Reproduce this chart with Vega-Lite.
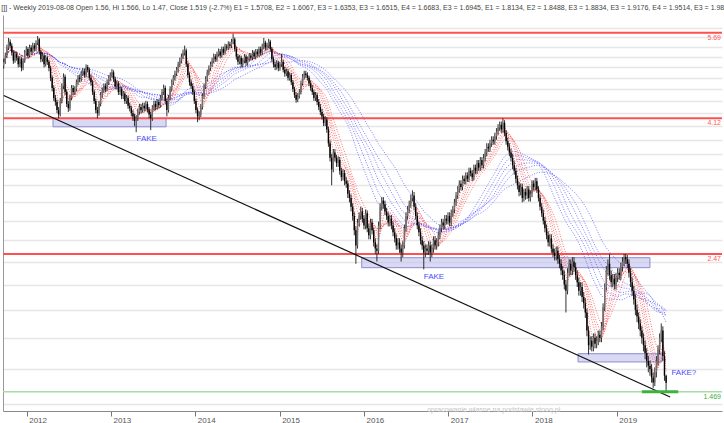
{
"$schema":"https://vega.github.io/schema/vega-lite/v6.json",
"width":719,"height":396,
"autosize":{"type":"none"},
"padding":{"left":3,"top":15,"right":2,"bottom":12},
"background":"white",
"title":{"text":"[]] - Weekly 2019-08-08 Open 1.56, Hi 1.566, Lo 1.47, Close 1.519 (-2.7%) E1 = 1.5708, E2 = 1.6067, E3 = 1.6353, E3 = 1.6515, E4 = 1.6683, E3 = 1.6945, E1 = 1.8134, E2 = 1.8488, E3 = 1.8834, E3 = 1.9176, E4 = 1.9514, E3 = 1.984","anchor":"start","fontSize":7,"fontWeight":"normal","color":"#444444","font":"Liberation Sans","offset":4},
"config":{"view":{"stroke":null},"font":"Liberation Sans",
 "axisX":{"grid":false,"tickSize":5,"tickColor":"#777777","domainColor":"#8a8a8a","labelAlign":"left","labelOffset":2,"labelFontSize":8,"labelColor":"#555555","labelPadding":0,"title":null},
 "axisY":{"grid":true,"gridColor":"#e6e6e6","gridWidth":1.5,"labels":false,"ticks":false,"domain":true,"domainColor":"#999999","title":null}},
"datasets":{
"candles":[
{"i":0,"o":5.02,"h":5.16,"l":4.97,"c":5.1},{"i":1,"o":5.1,"h":5.28,"l":5.06,"c":5.22},{"i":2,"o":5.22,"h":5.44,"l":5.17,"c":5.38},{"i":3,"o":5.38,"h":5.58,"l":5.33,"c":5.5},{"i":4,"o":5.5,"h":5.55,"l":5.36,"c":5.42},{"i":5,"o":5.42,"h":5.47,"l":5.22,"c":5.28},{"i":6,"o":5.28,"h":5.33,"l":5.06,"c":5.12},{"i":7,"o":5.12,"h":5.31,"l":5.08,"c":5.25},{"i":8,"o":5.25,"h":5.3,"l":5.12,"c":5.18},{"i":9,"o":5.18,"h":5.22,"l":4.99,"c":5.05},
{"i":10,"o":5.05,"h":5.21,"l":5.0,"c":5.15},{"i":11,"o":5.15,"h":5.19,"l":4.92,"c":4.98},{"i":12,"o":4.98,"h":5.17,"l":4.94,"c":5.12},{"i":13,"o":5.12,"h":5.33,"l":5.08,"c":5.28},{"i":14,"o":5.28,"h":5.41,"l":5.23,"c":5.35},{"i":15,"o":5.35,"h":5.39,"l":5.16,"c":5.22},{"i":16,"o":5.22,"h":5.44,"l":5.18,"c":5.38},{"i":17,"o":5.38,"h":5.43,"l":5.24,"c":5.3},{"i":18,"o":5.3,"h":5.48,"l":5.26,"c":5.42},{"i":19,"o":5.42,"h":5.47,"l":5.3,"c":5.36},
{"i":20,"o":5.36,"h":5.53,"l":5.31,"c":5.48},{"i":21,"o":5.48,"h":5.62,"l":5.43,"c":5.55},{"i":22,"o":5.55,"h":5.58,"l":5.24,"c":5.3},{"i":23,"o":5.3,"h":5.34,"l":5.09,"c":5.15},{"i":24,"o":5.15,"h":5.28,"l":5.1,"c":5.22},{"i":25,"o":5.22,"h":5.26,"l":4.99,"c":5.05},{"i":26,"o":5.05,"h":5.23,"l":5.01,"c":5.18},{"i":27,"o":5.18,"h":5.22,"l":5.04,"c":5.1},{"i":28,"o":5.1,"h":5.14,"l":4.92,"c":4.98},{"i":29,"o":4.98,"h":5.02,"l":4.74,"c":4.8},
{"i":30,"o":4.8,"h":4.84,"l":4.56,"c":4.62},{"i":31,"o":4.62,"h":4.66,"l":4.4,"c":4.45},{"i":32,"o":4.45,"h":4.5,"l":4.32,"c":4.38},{"i":33,"o":4.38,"h":4.42,"l":4.2,"c":4.25},{"i":34,"o":4.25,"h":4.3,"l":4.12,"c":4.18},{"i":35,"o":4.18,"h":4.45,"l":4.15,"c":4.4},{"i":36,"o":4.4,"h":4.7,"l":4.36,"c":4.65},{"i":37,"o":4.65,"h":4.88,"l":4.6,"c":4.82},{"i":38,"o":4.82,"h":4.86,"l":4.5,"c":4.55},{"i":39,"o":4.55,"h":4.59,"l":4.3,"c":4.35},
{"i":40,"o":4.35,"h":4.4,"l":4.22,"c":4.28},{"i":41,"o":4.28,"h":4.5,"l":4.24,"c":4.45},{"i":42,"o":4.45,"h":4.67,"l":4.41,"c":4.62},{"i":43,"o":4.62,"h":4.67,"l":4.5,"c":4.55},{"i":44,"o":4.55,"h":4.65,"l":4.5,"c":4.6},{"i":45,"o":4.6,"h":4.77,"l":4.56,"c":4.72},{"i":46,"o":4.72,"h":4.85,"l":4.67,"c":4.8},{"i":47,"o":4.8,"h":4.86,"l":4.72,"c":4.78},{"i":48,"o":4.78,"h":4.93,"l":4.73,"c":4.88},{"i":49,"o":4.88,"h":4.98,"l":4.83,"c":4.92},
{"i":50,"o":4.92,"h":4.97,"l":4.8,"c":4.85},{"i":51,"o":4.85,"h":5.05,"l":4.81,"c":5.0},{"i":52,"o":5.0,"h":5.04,"l":4.9,"c":4.95},{"i":53,"o":4.95,"h":4.99,"l":4.75,"c":4.8},{"i":54,"o":4.8,"h":4.85,"l":4.66,"c":4.72},{"i":55,"o":4.72,"h":4.76,"l":4.5,"c":4.55},{"i":56,"o":4.55,"h":4.59,"l":4.35,"c":4.4},{"i":57,"o":4.4,"h":4.44,"l":4.2,"c":4.25},{"i":58,"o":4.25,"h":4.3,"l":4.12,"c":4.2},{"i":59,"o":4.2,"h":4.4,"l":4.16,"c":4.35},
{"i":60,"o":4.35,"h":4.55,"l":4.31,"c":4.5},{"i":61,"o":4.5,"h":4.63,"l":4.45,"c":4.58},{"i":62,"o":4.58,"h":4.7,"l":4.53,"c":4.65},{"i":63,"o":4.65,"h":4.7,"l":4.55,"c":4.6},{"i":64,"o":4.6,"h":4.77,"l":4.56,"c":4.72},{"i":65,"o":4.72,"h":4.85,"l":4.67,"c":4.8},{"i":66,"o":4.8,"h":4.9,"l":4.75,"c":4.85},{"i":67,"o":4.85,"h":4.96,"l":4.8,"c":4.9},{"i":68,"o":4.9,"h":4.94,"l":4.73,"c":4.78},{"i":69,"o":4.78,"h":4.82,"l":4.6,"c":4.65},
{"i":70,"o":4.65,"h":4.75,"l":4.6,"c":4.7},{"i":71,"o":4.7,"h":4.74,"l":4.5,"c":4.55},{"i":72,"o":4.55,"h":4.65,"l":4.5,"c":4.6},{"i":73,"o":4.6,"h":4.64,"l":4.43,"c":4.48},{"i":74,"o":4.48,"h":4.57,"l":4.43,"c":4.52},{"i":75,"o":4.52,"h":4.56,"l":4.35,"c":4.4},{"i":76,"o":4.4,"h":4.5,"l":4.35,"c":4.45},{"i":77,"o":4.45,"h":4.49,"l":4.27,"c":4.32},{"i":78,"o":4.32,"h":4.37,"l":4.23,"c":4.28},{"i":79,"o":4.28,"h":4.32,"l":4.15,"c":4.2},
{"i":80,"o":4.2,"h":4.25,"l":4.08,"c":4.15},{"i":81,"o":4.15,"h":4.19,"l":4.0,"c":4.08},{"i":82,"o":4.08,"h":4.17,"l":3.91,"c":4.12},{"i":83,"o":4.12,"h":4.27,"l":4.08,"c":4.22},{"i":84,"o":4.22,"h":4.35,"l":4.18,"c":4.3},{"i":85,"o":4.3,"h":4.35,"l":4.2,"c":4.25},{"i":86,"o":4.25,"h":4.37,"l":4.21,"c":4.32},{"i":87,"o":4.32,"h":4.37,"l":4.23,"c":4.28},{"i":88,"o":4.28,"h":4.4,"l":4.24,"c":4.35},{"i":89,"o":4.35,"h":4.39,"l":4.21,"c":4.26},
{"i":90,"o":4.26,"h":4.3,"l":4.12,"c":4.18},{"i":91,"o":4.18,"h":4.22,"l":3.94,"c":4.12},{"i":92,"o":4.12,"h":4.33,"l":4.08,"c":4.28},{"i":93,"o":4.28,"h":4.4,"l":4.24,"c":4.35},{"i":94,"o":4.35,"h":4.4,"l":4.25,"c":4.3},{"i":95,"o":4.3,"h":4.43,"l":4.26,"c":4.38},{"i":96,"o":4.38,"h":4.42,"l":4.28,"c":4.33},{"i":97,"o":4.33,"h":4.5,"l":4.29,"c":4.45},{"i":98,"o":4.45,"h":4.6,"l":4.41,"c":4.55},{"i":99,"o":4.55,"h":4.68,"l":4.5,"c":4.62},
{"i":100,"o":4.62,"h":4.66,"l":4.35,"c":4.4},{"i":101,"o":4.4,"h":4.44,"l":4.15,"c":4.25},{"i":102,"o":4.25,"h":4.5,"l":4.21,"c":4.45},{"i":103,"o":4.45,"h":4.65,"l":4.41,"c":4.6},{"i":104,"o":4.6,"h":4.77,"l":4.56,"c":4.72},{"i":105,"o":4.72,"h":4.85,"l":4.67,"c":4.8},{"i":106,"o":4.8,"h":4.93,"l":4.75,"c":4.88},{"i":107,"o":4.88,"h":5.0,"l":4.83,"c":4.95},{"i":108,"o":4.95,"h":5.1,"l":4.9,"c":5.05},{"i":109,"o":5.05,"h":5.18,"l":5.0,"c":5.12},
{"i":110,"o":5.12,"h":5.26,"l":5.07,"c":5.2},{"i":111,"o":5.2,"h":5.34,"l":5.15,"c":5.28},{"i":112,"o":5.28,"h":5.42,"l":5.22,"c":5.32},{"i":113,"o":5.32,"h":5.36,"l":5.0,"c":5.05},{"i":114,"o":5.05,"h":5.09,"l":4.8,"c":4.85},{"i":115,"o":4.85,"h":4.9,"l":4.66,"c":4.72},{"i":116,"o":4.72,"h":4.77,"l":4.6,"c":4.65},{"i":117,"o":4.65,"h":4.7,"l":4.5,"c":4.55},{"i":118,"o":4.55,"h":4.59,"l":4.35,"c":4.4},{"i":119,"o":4.4,"h":4.44,"l":4.2,"c":4.25},
{"i":120,"o":4.25,"h":4.29,"l":4.06,"c":4.15},{"i":121,"o":4.15,"h":4.23,"l":4.09,"c":4.18},{"i":122,"o":4.18,"h":4.35,"l":4.14,"c":4.3},{"i":123,"o":4.3,"h":4.53,"l":4.26,"c":4.48},{"i":124,"o":4.48,"h":4.7,"l":4.44,"c":4.65},{"i":125,"o":4.65,"h":4.83,"l":4.6,"c":4.78},{"i":126,"o":4.78,"h":4.95,"l":4.73,"c":4.9},{"i":127,"o":4.9,"h":5.03,"l":4.85,"c":4.98},{"i":128,"o":4.98,"h":5.1,"l":4.93,"c":5.05},{"i":129,"o":5.05,"h":5.18,"l":5.0,"c":5.12},
{"i":130,"o":5.12,"h":5.26,"l":5.07,"c":5.2},{"i":131,"o":5.2,"h":5.25,"l":5.1,"c":5.15},{"i":132,"o":5.15,"h":5.3,"l":5.1,"c":5.25},{"i":133,"o":5.25,"h":5.36,"l":5.2,"c":5.3},{"i":134,"o":5.3,"h":5.35,"l":5.17,"c":5.22},{"i":135,"o":5.22,"h":5.4,"l":5.18,"c":5.35},{"i":136,"o":5.35,"h":5.4,"l":5.23,"c":5.28},{"i":137,"o":5.28,"h":5.46,"l":5.24,"c":5.4},{"i":138,"o":5.4,"h":5.45,"l":5.32,"c":5.38},{"i":139,"o":5.38,"h":5.51,"l":5.33,"c":5.45},
{"i":140,"o":5.45,"h":5.5,"l":5.36,"c":5.42},{"i":141,"o":5.42,"h":5.56,"l":5.37,"c":5.5},{"i":142,"o":5.5,"h":5.67,"l":5.45,"c":5.55},{"i":143,"o":5.55,"h":5.59,"l":5.3,"c":5.35},{"i":144,"o":5.35,"h":5.4,"l":5.14,"c":5.2},{"i":145,"o":5.2,"h":5.25,"l":5.04,"c":5.1},{"i":146,"o":5.1,"h":5.23,"l":5.05,"c":5.18},{"i":147,"o":5.18,"h":5.22,"l":4.99,"c":5.05},{"i":148,"o":5.05,"h":5.17,"l":5.0,"c":5.12},{"i":149,"o":5.12,"h":5.25,"l":5.07,"c":5.2},
{"i":150,"o":5.2,"h":5.24,"l":5.02,"c":5.08},{"i":151,"o":5.08,"h":5.2,"l":5.03,"c":5.15},{"i":152,"o":5.15,"h":5.27,"l":5.1,"c":5.22},{"i":153,"o":5.22,"h":5.27,"l":5.12,"c":5.18},{"i":154,"o":5.18,"h":5.33,"l":5.13,"c":5.28},{"i":155,"o":5.28,"h":5.32,"l":5.15,"c":5.2},{"i":156,"o":5.2,"h":5.35,"l":5.15,"c":5.3},{"i":157,"o":5.3,"h":5.35,"l":5.2,"c":5.25},{"i":158,"o":5.25,"h":5.4,"l":5.2,"c":5.35},{"i":159,"o":5.35,"h":5.4,"l":5.22,"c":5.28},
{"i":160,"o":5.28,"h":5.46,"l":5.23,"c":5.4},{"i":161,"o":5.4,"h":5.58,"l":5.35,"c":5.48},{"i":162,"o":5.48,"h":5.52,"l":5.32,"c":5.38},{"i":163,"o":5.38,"h":5.48,"l":5.33,"c":5.42},{"i":164,"o":5.42,"h":5.56,"l":5.37,"c":5.5},{"i":165,"o":5.5,"h":5.54,"l":5.3,"c":5.35},{"i":166,"o":5.35,"h":5.39,"l":5.1,"c":5.15},{"i":167,"o":5.15,"h":5.2,"l":4.99,"c":5.05},{"i":168,"o":5.05,"h":5.1,"l":4.94,"c":5.0},{"i":169,"o":5.0,"h":5.13,"l":4.95,"c":5.08},
{"i":170,"o":5.08,"h":5.12,"l":4.92,"c":4.98},{"i":171,"o":4.98,"h":5.1,"l":4.93,"c":5.05},{"i":172,"o":5.05,"h":5.25,"l":5.0,"c":5.1},{"i":173,"o":5.1,"h":5.14,"l":4.9,"c":4.95},{"i":174,"o":4.95,"h":5.0,"l":4.82,"c":4.88},{"i":175,"o":4.88,"h":4.97,"l":4.83,"c":4.92},{"i":176,"o":4.92,"h":4.96,"l":4.75,"c":4.8},{"i":177,"o":4.8,"h":4.9,"l":4.75,"c":4.85},{"i":178,"o":4.85,"h":4.89,"l":4.67,"c":4.72},{"i":179,"o":4.72,"h":4.76,"l":4.55,"c":4.6},
{"i":180,"o":4.6,"h":4.64,"l":4.45,"c":4.5},{"i":181,"o":4.5,"h":4.55,"l":4.37,"c":4.42},{"i":182,"o":4.42,"h":4.53,"l":4.38,"c":4.48},{"i":183,"o":4.48,"h":4.6,"l":4.44,"c":4.55},{"i":184,"o":4.55,"h":4.75,"l":4.51,"c":4.7},{"i":185,"o":4.7,"h":4.87,"l":4.66,"c":4.82},{"i":186,"o":4.82,"h":4.93,"l":4.77,"c":4.88},{"i":187,"o":4.88,"h":4.93,"l":4.8,"c":4.85},{"i":188,"o":4.85,"h":4.9,"l":4.75,"c":4.8},{"i":189,"o":4.8,"h":4.84,"l":4.65,"c":4.7},
{"i":190,"o":4.7,"h":4.75,"l":4.57,"c":4.62},{"i":191,"o":4.62,"h":4.67,"l":4.5,"c":4.55},{"i":192,"o":4.55,"h":4.59,"l":4.4,"c":4.45},{"i":193,"o":4.45,"h":4.55,"l":4.4,"c":4.5},{"i":194,"o":4.5,"h":4.54,"l":4.33,"c":4.38},{"i":195,"o":4.38,"h":4.43,"l":4.25,"c":4.3},{"i":196,"o":4.3,"h":4.35,"l":4.17,"c":4.22},{"i":197,"o":4.22,"h":4.27,"l":4.1,"c":4.15},{"i":198,"o":4.15,"h":4.19,"l":4.0,"c":4.05},{"i":199,"o":4.05,"h":4.15,"l":4.0,"c":4.1},
{"i":200,"o":4.1,"h":4.14,"l":3.9,"c":3.95},{"i":201,"o":3.95,"h":3.99,"l":3.7,"c":3.75},{"i":202,"o":3.75,"h":3.79,"l":3.5,"c":3.55},{"i":203,"o":3.55,"h":3.6,"l":3.2,"c":3.4},{"i":204,"o":3.4,"h":3.67,"l":3.36,"c":3.62},{"i":205,"o":3.62,"h":3.67,"l":3.5,"c":3.55},{"i":206,"o":3.55,"h":3.59,"l":3.43,"c":3.48},{"i":207,"o":3.48,"h":3.57,"l":3.43,"c":3.52},{"i":208,"o":3.52,"h":3.56,"l":3.33,"c":3.38},{"i":209,"o":3.38,"h":3.42,"l":3.25,"c":3.3},
{"i":210,"o":3.3,"h":3.4,"l":3.26,"c":3.35},{"i":211,"o":3.35,"h":3.39,"l":3.2,"c":3.25},{"i":212,"o":3.25,"h":3.3,"l":3.17,"c":3.22},{"i":213,"o":3.22,"h":3.26,"l":3.05,"c":3.1},{"i":214,"o":3.1,"h":3.14,"l":3.0,"c":3.05},{"i":215,"o":3.05,"h":3.09,"l":2.9,"c":2.95},{"i":216,"o":2.95,"h":2.99,"l":2.8,"c":2.85},{"i":217,"o":2.85,"h":2.89,"l":2.65,"c":2.7},{"i":218,"o":2.7,"h":2.74,"l":2.38,"c":2.55},{"i":219,"o":2.55,"h":2.82,"l":2.52,"c":2.78},
{"i":220,"o":2.78,"h":2.89,"l":2.74,"c":2.85},{"i":221,"o":2.85,"h":2.95,"l":2.81,"c":2.9},{"i":222,"o":2.9,"h":2.94,"l":2.78,"c":2.82},{"i":223,"o":2.82,"h":2.86,"l":2.71,"c":2.75},{"i":224,"o":2.75,"h":2.92,"l":2.71,"c":2.88},{"i":225,"o":2.88,"h":2.91,"l":2.68,"c":2.72},{"i":226,"o":2.72,"h":2.76,"l":2.61,"c":2.65},{"i":227,"o":2.65,"h":2.82,"l":2.61,"c":2.78},{"i":228,"o":2.78,"h":2.82,"l":2.66,"c":2.7},{"i":229,"o":2.7,"h":2.73,"l":2.54,"c":2.58},
{"i":230,"o":2.58,"h":2.62,"l":2.47,"c":2.52},{"i":231,"o":2.52,"h":2.56,"l":2.4,"c":2.5},{"i":232,"o":2.5,"h":2.79,"l":2.47,"c":2.75},{"i":233,"o":2.75,"h":2.99,"l":2.71,"c":2.95},{"i":234,"o":2.95,"h":3.06,"l":2.91,"c":3.02},{"i":235,"o":3.02,"h":3.06,"l":2.93,"c":2.98},{"i":236,"o":2.98,"h":3.02,"l":2.86,"c":2.9},{"i":237,"o":2.9,"h":2.94,"l":2.81,"c":2.85},{"i":238,"o":2.85,"h":2.89,"l":2.74,"c":2.78},{"i":239,"o":2.78,"h":2.86,"l":2.74,"c":2.82},
{"i":240,"o":2.82,"h":2.86,"l":2.71,"c":2.75},{"i":241,"o":2.75,"h":2.79,"l":2.64,"c":2.68},{"i":242,"o":2.68,"h":2.72,"l":2.58,"c":2.62},{"i":243,"o":2.62,"h":2.66,"l":2.51,"c":2.55},{"i":244,"o":2.55,"h":2.62,"l":2.51,"c":2.58},{"i":245,"o":2.58,"h":2.62,"l":2.48,"c":2.52},{"i":246,"o":2.52,"h":2.56,"l":2.4,"c":2.48},{"i":247,"o":2.48,"h":2.59,"l":2.44,"c":2.55},{"i":248,"o":2.55,"h":2.76,"l":2.52,"c":2.72},{"i":249,"o":2.72,"h":2.89,"l":2.68,"c":2.85},
{"i":250,"o":2.85,"h":2.96,"l":2.81,"c":2.92},{"i":251,"o":2.92,"h":3.02,"l":2.88,"c":2.98},{"i":252,"o":2.98,"h":3.09,"l":2.94,"c":3.05},{"i":253,"o":3.05,"h":3.14,"l":3.01,"c":3.08},{"i":254,"o":3.08,"h":3.12,"l":2.91,"c":2.95},{"i":255,"o":2.95,"h":2.99,"l":2.81,"c":2.85},{"i":256,"o":2.85,"h":2.89,"l":2.71,"c":2.75},{"i":257,"o":2.75,"h":2.79,"l":2.64,"c":2.68},{"i":258,"o":2.68,"h":2.72,"l":2.56,"c":2.6},{"i":259,"o":2.6,"h":2.64,"l":2.51,"c":2.55},
{"i":260,"o":2.55,"h":2.59,"l":2.33,"c":2.48},{"i":261,"o":2.48,"h":2.56,"l":2.44,"c":2.52},{"i":262,"o":2.52,"h":2.56,"l":2.46,"c":2.5},{"i":263,"o":2.5,"h":2.59,"l":2.46,"c":2.55},{"i":264,"o":2.55,"h":2.59,"l":2.4,"c":2.48},{"i":265,"o":2.48,"h":2.56,"l":2.44,"c":2.52},{"i":266,"o":2.52,"h":2.64,"l":2.48,"c":2.6},{"i":267,"o":2.6,"h":2.64,"l":2.51,"c":2.55},{"i":268,"o":2.55,"h":2.62,"l":2.51,"c":2.58},{"i":269,"o":2.58,"h":2.69,"l":2.54,"c":2.65},
{"i":270,"o":2.65,"h":2.76,"l":2.61,"c":2.72},{"i":271,"o":2.72,"h":2.82,"l":2.68,"c":2.78},{"i":272,"o":2.78,"h":2.82,"l":2.71,"c":2.75},{"i":273,"o":2.75,"h":2.86,"l":2.71,"c":2.82},{"i":274,"o":2.82,"h":2.86,"l":2.76,"c":2.8},{"i":275,"o":2.8,"h":2.89,"l":2.76,"c":2.85},{"i":276,"o":2.85,"h":2.89,"l":2.74,"c":2.78},{"i":277,"o":2.78,"h":2.92,"l":2.74,"c":2.88},{"i":278,"o":2.88,"h":2.96,"l":2.84,"c":2.92},{"i":279,"o":2.92,"h":3.04,"l":2.88,"c":3.0},
{"i":280,"o":3.0,"h":3.12,"l":2.96,"c":3.08},{"i":281,"o":3.08,"h":3.19,"l":3.04,"c":3.15},{"i":282,"o":3.15,"h":3.26,"l":3.11,"c":3.22},{"i":283,"o":3.22,"h":3.26,"l":3.14,"c":3.18},{"i":284,"o":3.18,"h":3.32,"l":3.14,"c":3.28},{"i":285,"o":3.28,"h":3.32,"l":3.21,"c":3.25},{"i":286,"o":3.25,"h":3.36,"l":3.21,"c":3.32},{"i":287,"o":3.32,"h":3.36,"l":3.24,"c":3.28},{"i":288,"o":3.28,"h":3.42,"l":3.24,"c":3.38},{"i":289,"o":3.38,"h":3.42,"l":3.31,"c":3.35},
{"i":290,"o":3.35,"h":3.39,"l":3.25,"c":3.3},{"i":291,"o":3.3,"h":3.46,"l":3.26,"c":3.42},{"i":292,"o":3.42,"h":3.46,"l":3.34,"c":3.38},{"i":293,"o":3.38,"h":3.52,"l":3.34,"c":3.48},{"i":294,"o":3.48,"h":3.52,"l":3.38,"c":3.42},{"i":295,"o":3.42,"h":3.56,"l":3.38,"c":3.52},{"i":296,"o":3.52,"h":3.56,"l":3.41,"c":3.45},{"i":297,"o":3.45,"h":3.6,"l":3.41,"c":3.55},{"i":298,"o":3.55,"h":3.67,"l":3.5,"c":3.62},{"i":299,"o":3.62,"h":3.75,"l":3.57,"c":3.7},
{"i":300,"o":3.7,"h":3.75,"l":3.63,"c":3.68},{"i":301,"o":3.68,"h":3.8,"l":3.63,"c":3.75},{"i":302,"o":3.75,"h":3.85,"l":3.7,"c":3.8},{"i":303,"o":3.8,"h":3.85,"l":3.73,"c":3.78},{"i":304,"o":3.78,"h":3.9,"l":3.73,"c":3.85},{"i":305,"o":3.85,"h":3.97,"l":3.8,"c":3.92},{"i":306,"o":3.92,"h":4.03,"l":3.87,"c":3.98},{"i":307,"o":3.98,"h":4.07,"l":3.93,"c":4.02},{"i":308,"o":4.02,"h":4.07,"l":3.9,"c":3.95},{"i":309,"o":3.95,"h":4.12,"l":3.9,"c":4.05},
{"i":310,"o":4.05,"h":4.09,"l":3.85,"c":3.9},{"i":311,"o":3.9,"h":3.94,"l":3.73,"c":3.78},{"i":312,"o":3.78,"h":3.83,"l":3.65,"c":3.7},{"i":313,"o":3.7,"h":3.75,"l":3.57,"c":3.62},{"i":314,"o":3.62,"h":3.67,"l":3.5,"c":3.55},{"i":315,"o":3.55,"h":3.6,"l":3.4,"c":3.45},{"i":316,"o":3.45,"h":3.5,"l":3.33,"c":3.38},{"i":317,"o":3.38,"h":3.42,"l":3.23,"c":3.28},{"i":318,"o":3.28,"h":3.32,"l":3.15,"c":3.2},{"i":319,"o":3.2,"h":3.24,"l":3.07,"c":3.12},
{"i":320,"o":3.12,"h":3.22,"l":3.08,"c":3.18},{"i":321,"o":3.18,"h":3.22,"l":3.0,"c":3.05},{"i":322,"o":3.05,"h":3.16,"l":3.01,"c":3.12},{"i":323,"o":3.12,"h":3.16,"l":3.03,"c":3.08},{"i":324,"o":3.08,"h":3.19,"l":3.04,"c":3.15},{"i":325,"o":3.15,"h":3.19,"l":3.01,"c":3.05},{"i":326,"o":3.05,"h":3.14,"l":3.01,"c":3.1},{"i":327,"o":3.1,"h":3.26,"l":3.06,"c":3.22},{"i":328,"o":3.22,"h":3.26,"l":3.14,"c":3.18},{"i":329,"o":3.18,"h":3.29,"l":3.14,"c":3.25},
{"i":330,"o":3.25,"h":3.29,"l":3.11,"c":3.15},{"i":331,"o":3.15,"h":3.19,"l":3.01,"c":3.05},{"i":332,"o":3.05,"h":3.09,"l":2.91,"c":2.95},{"i":333,"o":2.95,"h":2.99,"l":2.84,"c":2.88},{"i":334,"o":2.88,"h":2.92,"l":2.76,"c":2.8},{"i":335,"o":2.8,"h":2.84,"l":2.68,"c":2.72},{"i":336,"o":2.72,"h":2.76,"l":2.61,"c":2.65},{"i":337,"o":2.65,"h":2.69,"l":2.54,"c":2.58},{"i":338,"o":2.58,"h":2.66,"l":2.54,"c":2.62},{"i":339,"o":2.62,"h":2.66,"l":2.48,"c":2.52},
{"i":340,"o":2.52,"h":2.56,"l":2.44,"c":2.48},{"i":341,"o":2.48,"h":2.52,"l":2.41,"c":2.45},{"i":342,"o":2.45,"h":2.54,"l":2.41,"c":2.5},{"i":343,"o":2.5,"h":2.54,"l":2.38,"c":2.42},{"i":344,"o":2.42,"h":2.46,"l":2.34,"c":2.38},{"i":345,"o":2.38,"h":2.42,"l":2.28,"c":2.32},{"i":346,"o":2.32,"h":2.36,"l":2.24,"c":2.28},{"i":347,"o":2.28,"h":2.32,"l":2.16,"c":2.2},{"i":348,"o":2.2,"h":2.24,"l":1.98,"c":2.15},{"i":349,"o":2.15,"h":2.34,"l":2.12,"c":2.3},
{"i":350,"o":2.3,"h":2.42,"l":2.27,"c":2.38},{"i":351,"o":2.38,"h":2.42,"l":2.28,"c":2.32},{"i":352,"o":2.32,"h":2.44,"l":2.28,"c":2.4},{"i":353,"o":2.4,"h":2.44,"l":2.31,"c":2.35},{"i":354,"o":2.35,"h":2.39,"l":2.24,"c":2.28},{"i":355,"o":2.28,"h":2.32,"l":2.18,"c":2.22},{"i":356,"o":2.22,"h":2.26,"l":2.11,"c":2.15},{"i":357,"o":2.15,"h":2.22,"l":2.11,"c":2.18},{"i":358,"o":2.18,"h":2.22,"l":2.06,"c":2.1},{"i":359,"o":2.1,"h":2.14,"l":2.01,"c":2.05},
{"i":360,"o":2.05,"h":2.09,"l":1.94,"c":1.98},{"i":361,"o":1.98,"h":2.01,"l":1.81,"c":1.85},{"i":362,"o":1.85,"h":1.88,"l":1.69,"c":1.75},{"i":363,"o":1.75,"h":1.81,"l":1.72,"c":1.78},{"i":364,"o":1.78,"h":1.81,"l":1.71,"c":1.74},{"i":365,"o":1.74,"h":1.83,"l":1.71,"c":1.8},{"i":366,"o":1.8,"h":1.83,"l":1.73,"c":1.76},{"i":367,"o":1.76,"h":1.81,"l":1.73,"c":1.78},{"i":368,"o":1.78,"h":1.85,"l":1.75,"c":1.82},{"i":369,"o":1.82,"h":1.85,"l":1.77,"c":1.8},
{"i":370,"o":1.8,"h":1.91,"l":1.77,"c":1.88},{"i":371,"o":1.88,"h":2.05,"l":1.85,"c":2.02},{"i":372,"o":2.02,"h":2.21,"l":1.99,"c":2.18},{"i":373,"o":2.18,"h":2.36,"l":2.15,"c":2.32},{"i":374,"o":2.32,"h":2.42,"l":2.28,"c":2.38},{"i":375,"o":2.38,"h":2.47,"l":2.24,"c":2.28},{"i":376,"o":2.28,"h":2.32,"l":2.18,"c":2.22},{"i":377,"o":2.22,"h":2.29,"l":2.18,"c":2.25},{"i":378,"o":2.25,"h":2.29,"l":2.16,"c":2.2},{"i":379,"o":2.2,"h":2.3,"l":2.16,"c":2.26},
{"i":380,"o":2.26,"h":2.34,"l":2.22,"c":2.3},{"i":381,"o":2.3,"h":2.34,"l":2.24,"c":2.28},{"i":382,"o":2.28,"h":2.39,"l":2.24,"c":2.35},{"i":383,"o":2.35,"h":2.44,"l":2.31,"c":2.4},{"i":384,"o":2.4,"h":2.47,"l":2.36,"c":2.44},{"i":385,"o":2.44,"h":2.47,"l":2.38,"c":2.42},{"i":386,"o":2.42,"h":2.46,"l":2.34,"c":2.38},{"i":387,"o":2.38,"h":2.42,"l":2.26,"c":2.3},{"i":388,"o":2.3,"h":2.34,"l":2.18,"c":2.22},{"i":389,"o":2.22,"h":2.26,"l":2.11,"c":2.15},
{"i":390,"o":2.15,"h":2.19,"l":2.04,"c":2.08},{"i":391,"o":2.08,"h":2.12,"l":1.96,"c":2.0},{"i":392,"o":2.0,"h":2.04,"l":1.91,"c":1.95},{"i":393,"o":1.95,"h":1.98,"l":1.86,"c":1.9},{"i":394,"o":1.9,"h":1.93,"l":1.81,"c":1.85},{"i":395,"o":1.85,"h":1.88,"l":1.76,"c":1.8},{"i":396,"o":1.8,"h":1.83,"l":1.71,"c":1.75},{"i":397,"o":1.75,"h":1.78,"l":1.66,"c":1.7},{"i":398,"o":1.7,"h":1.73,"l":1.61,"c":1.65},{"i":399,"o":1.65,"h":1.68,"l":1.58,"c":1.62},
{"i":400,"o":1.62,"h":1.65,"l":1.56,"c":1.6},{"i":401,"o":1.6,"h":1.63,"l":1.52,"c":1.55},{"i":402,"o":1.55,"h":1.58,"l":1.49,"c":1.52},{"i":403,"o":1.52,"h":1.61,"l":1.5,"c":1.58},{"i":404,"o":1.58,"h":1.68,"l":1.55,"c":1.65},{"i":405,"o":1.65,"h":1.75,"l":1.62,"c":1.72},{"i":406,"o":1.72,"h":1.83,"l":1.69,"c":1.8},{"i":407,"o":1.8,"h":1.9,"l":1.77,"c":1.85},{"i":408,"o":1.85,"h":1.88,"l":1.65,"c":1.68},{"i":409,"o":1.68,"h":1.71,"l":1.53,"c":1.56},
{"i":410,"o":1.56,"h":1.566,"l":1.47,"c":1.519}
],
"levels":[{"p":5.69,"t":"5.69"},{"p":4.12,"t":"4.12"},{"p":2.47,"t":"2.47"}],
"support":[{"p":1.469,"t":"1.469","i0":395,"i1":417.5}],
"trend":[{"i":0,"v":4.49},{"i":412.5,"v":1.4395}],
"boxes":[{"i0":30.5,"i1":100.5,"top":4.12,"bottom":3.99},{"i0":221.6,"i1":400,"top":2.435,"bottom":2.345},{"i0":355.5,"i1":407.5,"top":1.695,"bottom":1.643}],
"notes":[{"i":88.5,"v":3.806,"t":"FAKE"},{"i":266.3,"v":2.263,"t":"FAKE"},{"i":421,"v":1.578,"t":"FAKE?"}],
"credit":[{"i":303.3,"v":1.372,"t":"opracowanie własne na podstawie stooq.pl"}]
},
"layer":[
{"data":{"name":"boxes"},"mark":{"type":"rect","fill":"#c4c4ec","fillOpacity":0.65,"stroke":"#8c8cd0","strokeWidth":1},
 "encoding":{
  "x":{"field":"i0","type":"quantitative","title":null,"scale":{"domain":[-0.43,444.6],"nice":false,"zero":false},
   "axis":{"values":[14.25,66.4,118.6,170.8,223.0,275.2,327.3,379.5],"labelExpr":"'' + round(2011.727 + datum.value/52.18)","grid":false,"tickSize":5,"tickColor":"#777777","domainColor":"#8a8a8a","labelAlign":"left","labelOffset":2,"labelFontSize":8,"labelColor":"#555555","labelPadding":0,"title":null}},
  "x2":{"field":"i1"},
  "y":{"field":"top","type":"quantitative","title":null,"scale":{"type":"log","domain":[1.3655,6.084],"nice":false,"zero":false},
   "axis":{"values":[1.4,1.6,1.8,2.0,2.2,2.4,2.6,2.8,3.0,3.2,3.4,3.6,3.8,4.0,4.2,4.4,4.6,4.8,5.0,5.2,5.4,5.6,5.8],"grid":true,"gridColor":"#e6e6e6","gridWidth":1.5,"labels":false,"ticks":false,"domain":true,"domainColor":"#999999","title":null}},
  "y2":{"field":"bottom"}}},
{"data":{"name":"levels"},"mark":{"type":"rule","stroke":"#ff5050","strokeWidth":2},
 "encoding":{"y":{"field":"p","type":"quantitative","title":null,"scale":{"type":"log","domain":[1.3655,6.084],"nice":false,"zero":false}}}},
{"data":{"name":"support"},"mark":{"type":"rule","stroke":"#a8dca8","strokeWidth":1.5},
 "encoding":{"y":{"field":"p","type":"quantitative","title":null,"scale":{"type":"log","domain":[1.3655,6.084],"nice":false,"zero":false}}}},
{"data":{"name":"candles"},
 "transform":[
  {"window":[{"op":"mean","field":"c","as":"b30"}],"frame":[-29,0],"sort":[{"field":"i"}]},
  {"window":[{"op":"mean","field":"c","as":"b35"}],"frame":[-34,0],"sort":[{"field":"i"}]},
  {"window":[{"op":"mean","field":"c","as":"b40"}],"frame":[-39,0],"sort":[{"field":"i"}]},
  {"window":[{"op":"mean","field":"c","as":"b45"}],"frame":[-44,0],"sort":[{"field":"i"}]},
  {"window":[{"op":"mean","field":"c","as":"b50"}],"frame":[-49,0],"sort":[{"field":"i"}]},
  {"window":[{"op":"mean","field":"c","as":"b60"}],"frame":[-59,0],"sort":[{"field":"i"}]},
  {"window":[{"op":"mean","field":"c","as":"r3"}],"frame":[-2,0],"sort":[{"field":"i"}]},
  {"window":[{"op":"mean","field":"c","as":"r5"}],"frame":[-4,0],"sort":[{"field":"i"}]},
  {"window":[{"op":"mean","field":"c","as":"r8"}],"frame":[-7,0],"sort":[{"field":"i"}]},
  {"window":[{"op":"mean","field":"c","as":"r10"}],"frame":[-9,0],"sort":[{"field":"i"}]},
  {"window":[{"op":"mean","field":"c","as":"r12"}],"frame":[-11,0],"sort":[{"field":"i"}]},
  {"window":[{"op":"mean","field":"c","as":"r15"}],"frame":[-14,0],"sort":[{"field":"i"}]},
  {"fold":["b30","b35","b40","b45","b50","b60","r3","r5","r8","r10","r12","r15"],"as":["ma","v"]}
 ],
 "mark":{"type":"line","strokeWidth":1,"strokeDash":[1,1.6],"opacity":0.75},
 "encoding":{
  "x":{"field":"i","type":"quantitative","title":null,"scale":{"domain":[-0.43,444.6],"nice":false,"zero":false}},
  "y":{"field":"v","type":"quantitative","title":null,"scale":{"type":"log","domain":[1.3655,6.084],"nice":false,"zero":false}},
  "color":{"field":"ma","type":"nominal","legend":null,"scale":{"domain":["b30","b35","b40","b45","b50","b60","r3","r5","r8","r10","r12","r15"],"range":["#4a4aff","#4a4aff","#4a4aff","#4a4aff","#4a4aff","#4a4aff","#ff3c3c","#ff3c3c","#ff3c3c","#ff3c3c","#ff3c3c","#ff3c3c"]}}}},
{"data":{"name":"candles"},"mark":{"type":"rule","stroke":"#1a1a1a","strokeWidth":0.9},
 "encoding":{
  "x":{"field":"i","type":"quantitative","title":null,"scale":{"domain":[-0.43,444.6],"nice":false,"zero":false}},
  "y":{"field":"l","type":"quantitative","title":null,"scale":{"type":"log","domain":[1.3655,6.084],"nice":false,"zero":false}},
  "y2":{"field":"h"}}},
{"data":{"name":"candles"},"mark":{"type":"rule","strokeWidth":1.4},
 "encoding":{
  "x":{"field":"i","type":"quantitative","title":null,"scale":{"domain":[-0.43,444.6],"nice":false,"zero":false}},
  "y":{"field":"o","type":"quantitative","title":null,"scale":{"type":"log","domain":[1.3655,6.084],"nice":false,"zero":false}},
  "y2":{"field":"c"},
  "color":{"condition":{"test":"datum.c >= datum.o","value":"#707070"},"value":"#000000"}}},
{"data":{"name":"trend"},"mark":{"type":"line","stroke":"#111111","strokeWidth":1.2},
 "encoding":{
  "x":{"field":"i","type":"quantitative","title":null,"scale":{"domain":[-0.43,444.6],"nice":false,"zero":false}},
  "y":{"field":"v","type":"quantitative","title":null,"scale":{"type":"log","domain":[1.3655,6.084],"nice":false,"zero":false}}}},
{"data":{"name":"support"},"mark":{"type":"rule","stroke":"#3cb43c","strokeWidth":3},
 "encoding":{
  "x":{"field":"i0","type":"quantitative","title":null,"scale":{"domain":[-0.43,444.6],"nice":false,"zero":false}},
  "x2":{"field":"i1"},
  "y":{"field":"p","type":"quantitative","title":null,"scale":{"type":"log","domain":[1.3655,6.084],"nice":false,"zero":false}}}},
{"data":{"name":"levels"},"mark":{"type":"text","align":"right","baseline":"middle","dy":5,"dx":-1,"fontSize":7,"color":"#ff5a5a"},
 "encoding":{
  "x":{"datum":444.6,"type":"quantitative","title":null,"scale":{"domain":[-0.43,444.6],"nice":false,"zero":false}},
  "y":{"field":"p","type":"quantitative","title":null,"scale":{"type":"log","domain":[1.3655,6.084],"nice":false,"zero":false}},
  "text":{"field":"t"}}},
{"data":{"name":"support"},"mark":{"type":"text","align":"right","baseline":"middle","dy":5,"dx":-1,"fontSize":7,"color":"#44aa44"},
 "encoding":{
  "x":{"datum":444.6,"type":"quantitative","title":null,"scale":{"domain":[-0.43,444.6],"nice":false,"zero":false}},
  "y":{"field":"p","type":"quantitative","title":null,"scale":{"type":"log","domain":[1.3655,6.084],"nice":false,"zero":false}},
  "text":{"field":"t"}}},
{"data":{"name":"notes"},"mark":{"type":"text","align":"center","baseline":"middle","fontSize":8,"color":"#4b4bff"},
 "encoding":{
  "x":{"field":"i","type":"quantitative","title":null,"scale":{"domain":[-0.43,444.6],"nice":false,"zero":false}},
  "y":{"field":"v","type":"quantitative","title":null,"scale":{"type":"log","domain":[1.3655,6.084],"nice":false,"zero":false}},
  "text":{"field":"t"}}},
{"data":{"name":"credit"},"mark":{"type":"text","align":"center","baseline":"middle","fontSize":7,"color":"#c4c4c4"},
 "encoding":{
  "x":{"field":"i","type":"quantitative","title":null,"scale":{"domain":[-0.43,444.6],"nice":false,"zero":false}},
  "y":{"field":"v","type":"quantitative","title":null,"scale":{"type":"log","domain":[1.3655,6.084],"nice":false,"zero":false}},
  "text":{"field":"t"}}}
]
}
